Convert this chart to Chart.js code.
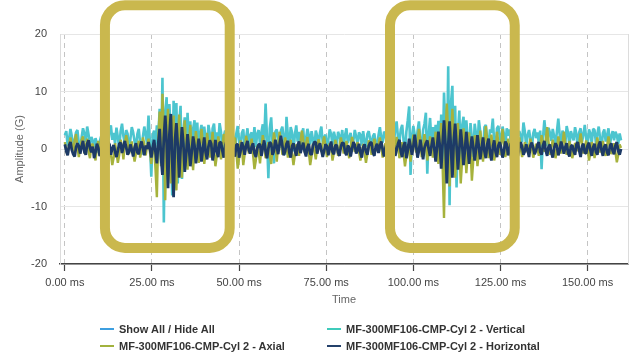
<!DOCTYPE html>
<html lang="en">
<head>
    <meta charset="UTF-8">
    <title>Vibration - Cyl 2</title>
    <style>
        body {
            margin: 0;
            padding: 0;
            background: #ffffff;
            font-family: "Liberation Sans", Arial, sans-serif;
        }
        .wrap {
            position: relative;
            width: 636px;
            height: 354px;
        }
        #chart {
            position: absolute;
            left: 0;
            top: 0;
        }
        .legend-item {
            position: absolute;
            height: 14px;
            line-height: 14px;
            font-size: 11px;
            font-weight: bold;
            color: #333333;
            white-space: nowrap;
        }
        .legend-item .swatch {
            display: inline-block;
            width: 14px;
            height: 2px;
            vertical-align: middle;
            margin-right: 5px;
            position: relative;
            top: -1px;
        }
    </style>
</head>
<body>
    <div class="wrap">
        <canvas id="chart" width="636" height="354"></canvas>
        <div id="legend"></div>
    </div>

    <script src="https://cdn.jsdelivr.net/npm/chart.js"></script>
    <script>
        // sample spacing of the traces (ms), one row below = 8 ms
        const sampleStepMs = 0.4;

        const xTickValues = [0, 25, 50, 75, 100, 125, 150];
        const yTickValues = [-20, -10, 0, 10, 20];

        // MF-300MF106-CMP-Cyl 2 - Vertical
        const verticalG = [
            2.4, 3.1, 0.6, 1.8, 3.5, 2.2, 0.1, 1.4, 2.9, 3.3, 1.0, -0.4, 2.0, 3.6, 2.7, 1.2, 3.9, 2.5, 0.8, 2.1,
            1.5, 0.3, 1.9, 0.9, -0.6, 1.3, 2.2, 0.7, 1.8, 3.0, 2.4, 0.5, 3.4, 4.1, 1.6, 2.8, 0.9, 3.7, 2.0, 0.2,
            3.1, 4.4, 2.2, 1.0, 3.3, 2.6, -0.5, 1.7, 3.8, 2.9, 1.3, 0.4, 2.6, 3.5, 1.0, -1.0, 2.2, 3.9, 2.4, 0.9,
            5.8, 1.2, -4.8, 2.4, 3.2, 0.4, 4.1, 2.0, 7.0, -2.5, 12.4, -12.8, 6.5, 9.0, -4.0, 7.8, 2.0, -8.1, 8.4, 1.5,
            8.0, -6.0, 4.5, 7.5, -5.2, 3.0, 5.5, -3.0, 6.3, 1.0, 4.8, -2.0, 3.5, 5.0, 0.5, 4.6, -1.2, 2.8, 4.2, 0.6,
            3.9, 1.5, 0.2, 4.2, 2.6, -0.8, 3.6, 4.4, 1.2, 2.9, 0.9, 4.5, 3.0, -0.3, 2.2, 3.2, 1.0, 3.9, 2.5, 0.5,
            3.5, 2.0, -0.6, 2.7, 4.0, 1.2, 0.8, 2.8, 3.4, -0.2, 1.9, 3.6, 0.5, 2.4, 2.9, 1.1, 3.8, 0.3, 2.6, 3.3,
            0.8, 2.9, 4.3, 1.5, 7.9, 2.0, -5.1, 3.6, 5.5, 1.0, -2.5, 3.0, 3.4, 1.8, 0.2, 3.2, 3.9, 2.1, -1.0, 5.6,
            2.2, 0.6, 3.8, 2.9, -0.4, 2.5, 4.1, 1.3, 3.0, 0.4, 2.7, 3.6, -0.3, 1.8, 3.5, 2.4, 0.8, 3.1, 1.6, 0.2,
            3.2, 2.3, 0.1, 2.8, 3.9, 1.1, 2.0, 2.5, -0.5, 1.6, 3.4, 2.6, 0.7, 3.0, 1.9, 0.4, 3.0, 2.2, 1.4, 3.3,
            0.3, 2.4, 3.6, 1.0, 2.0, 2.8, -0.2, 1.5, 3.3, 2.1, 0.9, 2.9, 2.5, 0.6, 3.1, 1.3, 0.4, 2.6, 3.1, 1.7,
            0.6, 2.2, 2.7, 1.1, 0.0, 2.4, 3.8, 1.9, 1.1, 3.0, 2.6, 0.7, -0.4, 2.8, 3.9, 1.6, 0.8, 3.5, 4.8, 2.0,
            1.2, 3.4, 4.2, 1.5, -0.8, 3.0, 5.0, 7.4, -4.5, 2.2, 4.0, 2.5, 0.5, 3.1, 4.8, 1.4, -0.6, 3.3, 4.4, 6.3,
            -4.3, 2.6, 5.4, 1.2, 3.8, 0.8, 4.2, 2.4, 4.9, -1.5, 6.0, -2.5, 9.8, 3.5, -5.0, 14.4, -9.8, 8.0, 11.0, -4.5,
            7.5, -6.7, 3.0, 6.7, -3.5, 4.0, 5.6, -1.0, 5.0, 2.0, -2.0, 4.5, 1.8, -1.4, 4.4, 2.6, 0.2, 5.0, 3.0, 1.0,
            -0.5, 3.8, 4.2, 1.6, 0.6, 3.4, 2.8, 5.3, 1.2, -0.2, 3.6, 4.0, 2.1, 1.0, 3.9, 2.6, 0.3, 3.6, 2.3, 3.4,
            0.9, 2.5, 3.8, 1.4, -0.3, 2.6, 3.1, 2.2, 1.2, 4.6, 3.0, 0.4, 2.4, 3.3, 1.7, 0.0, 2.7, 3.5, 1.9, 2.9,
            1.1, 3.2, -3.5, 2.0, 5.0, 2.6, 0.6, 3.7, 2.8, 1.4, 3.5, 2.2, 0.8, 3.0, 5.3, 2.4, -0.2, 3.2, 2.0, 0.9,
            4.0, 2.8, 0.5, 3.1, 2.3, 1.5, 3.8, 2.6, -0.1, 2.9, 3.6, 1.2, 2.5, 4.2, 1.8, 0.6, 3.4, 2.7, 1.0, 3.5,
            3.3, 1.0, 2.6, 3.9, 1.8, 0.2, 2.8, 3.4, 1.3, 2.4, 3.6, 0.7, 2.2, 3.1, 1.5, 3.0, 2.4, 0.9, 2.7, 1.5
        ];

        // MF-300MF106-CMP-Cyl 2 - Axial
        const axialG = [
            1.2, -0.4, -1.0, 0.8, 2.0, 0.6, -0.4, 1.5, 2.6, 0.3, -1.4, 0.2, 1.5, 2.2, -0.8, 0.4, 1.8, -0.5, -1.6, 0.7,
            0.9, -0.8, -2.0, 0.4, 1.4, -0.2, -0.6, 1.2, 2.2, 0.5, -1.2, -2.6, 0.8, -0.9, -2.8, -1.5, 1.0, -0.6, -2.4, -1.0,
            1.6, 0.4, -1.8, 0.9, 2.4, 1.2, -0.9, 0.3, 1.3, -0.6, -2.2, -0.8, 0.6, 1.4, -1.5, -0.3, 2.0, 0.8, -1.1, 0.5,
            1.8, -0.5, -2.6, 0.2, 0.9, -3.5, -8.4, 2.0, 6.5, -3.0, 9.6, 3.0, -8.9, 2.5, 7.0, -2.0, -6.0, 4.0, 5.8, -3.0,
            -7.2, 1.5, 6.0, -1.0, -5.0, 2.2, 5.0, 0.5, -3.6, 1.0, 4.2, -0.8, -3.7, 0.5, 3.1, 1.0, -2.4, 0.2, 3.5, 1.2,
            -2.6, -0.5, 2.8, 1.0, -1.5, 0.6, 3.0, -0.4, -3.0, -1.2, 2.2, 0.8, -1.8, 0.4, 2.6, 1.0, -2.2, -0.6, 1.4, 0.2,
            -1.2, 0.5, 2.0, -0.6, -3.4, -1.5, 1.5, 0.2, -2.8, -0.9, 2.3, 1.0, -0.8, 0.6, 1.8, -1.0, -3.5, -2.0, 0.6, -0.5,
            -2.5, 0.3, 2.4, 0.5, -1.6, -0.2, 1.2, -1.0, -2.6, 0.4, 2.9, 1.2, -2.2, 0.6, 3.0, 1.4, -1.0, 0.2, 2.0, 0.6,
            -1.5, 0.0, 1.6, -0.8, -2.8, -1.0, 0.8, 0.2, -1.2, 1.0, 3.2, 1.6, -0.6, 0.8, 2.1, -0.5, -2.8, -1.2, 0.9, -0.2,
            -1.8, 0.2, 1.7, 0.6, -0.5, 0.9, 2.2, 0.4, -1.4, -0.2, 1.0, 0.3, -2.0, -0.6, 1.6, 0.5, -1.2, 0.4, 2.0, 0.8,
            -0.8, 0.4, 1.4, -0.2, -1.6, 0.3, 2.1, 0.9, -0.5, 0.2, 1.2, -0.4, -2.0, -0.8, 0.9, -0.6, -2.4, -0.9, 1.5, 0.6,
            -1.0, 0.5, 1.8, 0.6, -0.4, 0.8, 2.0, 0.2, -1.5, -0.3, 1.0, -0.5, -1.8, 0.4, 2.4, 1.0, -0.9, 0.3, 2.1, 0.7,
            -1.6, -0.2, 1.2, -0.8, -3.0, -1.2, 0.8, -0.5, -2.2, 0.4, 2.5, 1.0, -0.6, 1.2, 3.5, 1.5, -1.4, 0.5, 2.6, 0.8,
            -2.0, 0.2, 2.2, 0.6, -1.5, 0.8, 3.0, 0.5, -2.6, 1.0, 4.5, -3.0, -12.0, 2.0, 7.9, 3.0, -6.5, 1.5, 7.0, 2.0,
            -5.0, -1.0, 4.5, 0.5, -6.0, -2.0, 3.6, 1.0, -4.2, -1.0, 2.9, 0.0, -5.5, -2.0, 2.4, 0.5, -3.0, -0.5, 3.2, 1.0,
            -2.2, 0.6, 4.0, 1.5, -1.6, 0.2, 2.5, 0.4, -2.0, -0.6, 3.0, 1.2, -1.0, 0.8, 3.5, 1.0, -1.4, 0.0, 1.8, 0.4,
            -1.8, -0.4, 1.5, 0.5, -0.9, 0.6, 2.0, 0.2, -1.4, -0.3, 1.2, 0.4, -0.6, 0.5, 1.8, 0.3, -1.5, -0.5, 0.9, 0.2,
            -1.2, 0.5, 2.4, 1.0, -0.5, 1.6, 3.8, 1.2, -1.0, 0.2, 1.6, 0.4, -1.6, -0.2, 2.2, 0.8, -0.8, 0.9, 3.0, 1.0,
            -1.0, 0.0, 1.4, 0.2, -1.6, -0.6, 1.0, 0.8, -0.4, 0.9, 2.7, 1.1, -0.8, 0.2, 1.5, 0.3, -2.0, -0.8, 1.2, 0.4,
            -1.6, 0.2, 2.0, 0.6, -0.6, 0.5, 1.4, -0.2, -1.2, 0.6, 2.2, 0.7, -0.9, 0.1, 1.0, -0.6, -2.3, -1.0, 0.8, 0.2
        ];

        // MF-300MF106-CMP-Cyl 2 - Horizontal
        const horizontalG = [
            0.8, -0.4, -1.1, 0.6, 1.2, -0.2, -0.9, -1.3, 0.3, 1.0, 0.5, -0.8, 0.4, 1.4, -0.5, -1.0, 0.9, 1.5, 0.2, -0.6,
            0.4, -1.6, -0.5, 0.9, 0.2, -1.2, -0.7, 1.0, 0.6, -0.3, -0.8, 1.2, 0.8, -1.0, 0.1, 0.7, -0.4, -1.4, -0.3, 0.9,
            1.1, -0.7, 0.4, 1.4, 0.3, -1.0, -0.5, 0.8, -0.1, -1.3, 0.2, 1.0, -0.6, -0.9, 0.5, 1.3, 0.1, -1.1, 0.6, 0.0,
            1.2, 0.1, -1.5, 0.2, 1.6, -0.5, -2.5, 1.0, 3.5, -1.5, -4.5, 2.0, 5.8, 1.0, -6.8, 2.5, 6.1, -2.0, -8.4, 1.5,
            4.5, 0.5, -5.0, 0.0, 3.8, 1.0, -4.0, -1.0, 2.6, 0.2, -3.0, -0.5, 2.2, 0.6, -2.5, -0.3, 1.8, 0.4, -2.2, 0.0,
            2.0, -0.6, -1.8, 0.4, 1.5, 0.9, -2.0, -0.5, 1.6, -0.4, -1.4, 1.1, 1.2, -0.3, -1.5, 0.6, 1.4, -0.9, -1.0, 0.8,
            1.1, -0.5, -1.3, 0.7, 0.9, -1.5, -0.4, 1.2, 0.3, -1.0, 0.6, 1.4, -0.2, -0.8, 0.4, 1.0, -0.7, -1.4, 0.1, 0.8,
            0.8, -1.2, 0.2, 1.5, -0.4, -1.6, 0.1, 1.2, 0.9, -1.0, -0.3, 1.6, 0.5, -0.9, 0.8, 2.3, 0.6, -1.1, -0.4, 0.9,
            1.4, -0.6, -1.5, 0.5, 1.0, -0.2, -1.2, 0.7, 1.3, -0.7, 0.2, 1.1, -0.4, -1.3, 0.3, 0.9, -0.8, -1.0, 0.6, 1.2,
            1.2, -0.8, 0.3, 1.0, -0.2, -1.4, -0.3, 0.8, 0.5, -1.1, 0.2, 1.3, -0.5, -0.9, 0.6, 0.7, -0.6, -1.2, 0.4, 1.1,
            1.0, -0.5, -1.1, 0.6, 0.2, -1.3, 0.0, 1.2, 0.7, -0.8, -0.2, 0.9, -0.6, -1.5, 0.3, 0.8, -0.4, -1.0, 0.5, 1.1,
            1.1, -0.6, -1.2, 0.4, 0.9, -0.7, 0.5, 1.3, -0.1, -1.3, 0.2, 1.0, 0.4, -1.0, -0.3, 1.4, 0.6, -1.2, -0.2, 0.9,
            1.6, -0.5, -1.4, 0.6, 1.2, -1.6, -0.2, 1.8, 0.5, -1.0, 0.4, 2.5, 0.6, -1.5, -0.3, 1.6, 0.0, -1.8, 0.2, 1.0,
            1.5, 0.0, -1.2, 0.5, 2.0, 0.2, -2.2, 0.4, 3.0, 0.5, -3.4, 1.0, 5.0, 1.0, -6.0, 0.5, 4.8, 0.0, -5.0, 1.5,
            4.4, 0.5, -3.6, 0.0, 3.4, 0.8, -2.8, -0.2, 3.0, 0.5, -2.6, 0.2, 2.2, 0.3, -2.0, 0.0, 2.4, 0.4, -1.8, 0.1,
            2.0, -0.4, -1.6, 0.8, 1.8, -0.6, -2.0, 0.3, 1.5, -0.5, -1.4, 0.6, 1.2, 0.2, -1.5, -0.4, 1.3, 0.8, -1.1, 0.0,
            1.0, -0.6, -1.3, 0.5, 0.9, -1.2, 0.2, 1.2, 0.4, -1.0, -0.4, 0.8, -0.2, -1.4, 0.6, 1.1, 0.2, -0.9, -0.3, 0.7,
            1.2, -0.5, -1.0, 0.6, 1.4, -0.3, -1.2, 0.4, 0.8, -0.6, -1.5, 0.2, 1.0, 0.5, -1.1, -0.2, 1.3, 0.4, -0.8, 0.3,
            1.0, -0.7, -1.3, 0.4, 0.7, -0.4, -1.0, 0.8, 1.2, -0.3, -1.4, 0.5, 0.9, -0.6, -0.8, 0.6, 1.1, -0.2, -1.2, 0.3,
            0.9, -0.5, -1.0, 0.7, 1.3, -0.2, -1.2, 0.4, 0.8, -0.6, -1.1, 0.5, 1.0, -0.3, -0.9, 0.6, 1.2, -0.4, -1.0, 0.0
        ];

        // highlighted regions (ms / G)
        const highlightStartMs = [11.5, 93.3];
        const highlightEndMs = [47.3, 129.1];
        const highlightTopG = 25.0;
        const highlightBottomG = -17.2;

        // legend, row by row
        const legendNames = [
            'Show All / Hide All',
            'MF-300MF106-CMP-Cyl 2 - Vertical',
            'MF-300MF106-CMP-Cyl 2 - Axial',
            'MF-300MF106-CMP-Cyl 2 - Horizontal'
        ];
        const legendColors = ['#3d9fe0', '#3fcbbb', '#a2b23e', '#24416b'];

        function toPoints(values) {
            return values.map((v, i) => ({ x: i * sampleStepMs, y: v }));
        }

        // build the two-column legend
        const legendEl = document.getElementById('legend');
        legendNames.forEach((name, i) => {
            const item = document.createElement('div');
            item.className = 'legend-item';
            item.style.left = (i % 2 === 0 ? 100 : 327) + 'px';
            item.style.top = (i < 2 ? 322 : 339) + 'px';
            item.innerHTML = '<span class="swatch" style="background:' + legendColors[i] + '"></span>' + name;
            legendEl.appendChild(item);
        });

        // right edge of the plot
        const frameLine = {
            id: 'frameLine',
            beforeDatasetsDraw(chart) {
                const { ctx, chartArea } = chart;
                ctx.save();
                ctx.strokeStyle = '#dcdcdc';
                ctx.lineWidth = 1;
                ctx.beginPath();
                ctx.moveTo(chartArea.right + 0.5, chartArea.top);
                ctx.lineTo(chartArea.right + 0.5, chartArea.bottom);
                ctx.stroke();
                ctx.restore();
            }
        };

        // gold rounded boxes over the two bursts
        const highlightBoxes = {
            id: 'highlightBoxes',
            afterDraw(chart) {
                const { ctx } = chart;
                const xs = chart.scales.x;
                const ys = chart.scales.y;
                ctx.save();
                ctx.strokeStyle = '#cab84e';
                ctx.lineWidth = 10;
                highlightStartMs.forEach((start, i) => {
                    const x0 = xs.getPixelForValue(start);
                    const x1 = xs.getPixelForValue(highlightEndMs[i]);
                    const y0 = ys.getPixelForValue(highlightTopG);
                    const y1 = ys.getPixelForValue(highlightBottomG);
                    const r = 20;
                    ctx.beginPath();
                    ctx.moveTo(x0 + r, y0);
                    ctx.arcTo(x1, y0, x1, y1, r);
                    ctx.arcTo(x1, y1, x0, y1, r);
                    ctx.arcTo(x0, y1, x0, y0, r);
                    ctx.arcTo(x0, y0, x1, y0, r);
                    ctx.closePath();
                    ctx.stroke();
                });
                ctx.restore();
            }
        };

        const tickFont = { family: '"Liberation Sans", Arial, sans-serif', size: 11 };

        new Chart(document.getElementById('chart'), {
            type: 'line',
            data: {
                datasets: [
                    {
                        label: legendNames[3],
                        data: toPoints(horizontalG),
                        borderColor: '#1d3a66',
                        borderWidth: 2.8,
                        order: 0
                    },
                    {
                        label: legendNames[2],
                        data: toPoints(axialG),
                        borderColor: '#a6b23c',
                        borderWidth: 2.4,
                        order: 1
                    },
                    {
                        label: legendNames[1],
                        data: toPoints(verticalG),
                        borderColor: '#4cc5cf',
                        borderWidth: 2.6,
                        order: 2
                    }
                ]
            },
            options: {
                responsive: false,
                animation: false,
                events: [],
                elements: {
                    point: { radius: 0 },
                    line: { tension: 0, borderJoinStyle: 'bevel' }
                },
                layout: {
                    padding: { top: 34, right: 8, bottom: 40, left: 0 }
                },
                plugins: {
                    legend: { display: false },
                    tooltip: { enabled: false }
                },
                scales: {
                    x: {
                        type: 'linear',
                        min: -1.4,
                        max: 161.6,
                        afterFit: (scale) => { scale.height = 50; },
                        afterBuildTicks: (scale) => {
                            scale.ticks = xTickValues.map(v => ({ value: v }));
                        },
                        ticks: {
                            font: tickFont,
                            color: '#444444',
                            padding: 5,
                            maxRotation: 0,
                            autoSkip: false,
                            callback: (v) => v.toFixed(2) + ' ms'
                        },
                        grid: {
                            color: '#c4c4c4',
                            lineWidth: 1,
                            tickColor: '#444444',
                            tickLength: 7,
                            tickWidth: 1.2
                        },
                        border: {
                            display: true,
                            color: '#444444',
                            width: 1.5,
                            dash: [5, 4]
                        },
                        title: {
                            display: true,
                            text: 'Time',
                            font: tickFont,
                            color: '#666666',
                            padding: { top: 0, bottom: 7 }
                        }
                    },
                    y: {
                        min: -20,
                        max: 20,
                        afterFit: (scale) => { scale.width = 60; },
                        afterBuildTicks: (scale) => {
                            scale.ticks = yTickValues.map(v => ({ value: v }));
                        },
                        ticks: {
                            font: tickFont,
                            color: '#444444',
                            padding: 13
                        },
                        grid: {
                            color: '#e6e6e6',
                            drawTicks: false
                        },
                        border: {
                            display: true,
                            color: '#dcdcdc',
                            width: 1
                        },
                        title: {
                            display: true,
                            text: 'Amplitude (G)',
                            font: tickFont,
                            color: '#666666',
                            padding: { top: 13, bottom: 0 }
                        }
                    }
                }
            },
            plugins: [frameLine, highlightBoxes]
        });
    </script>
</body>
</html>
